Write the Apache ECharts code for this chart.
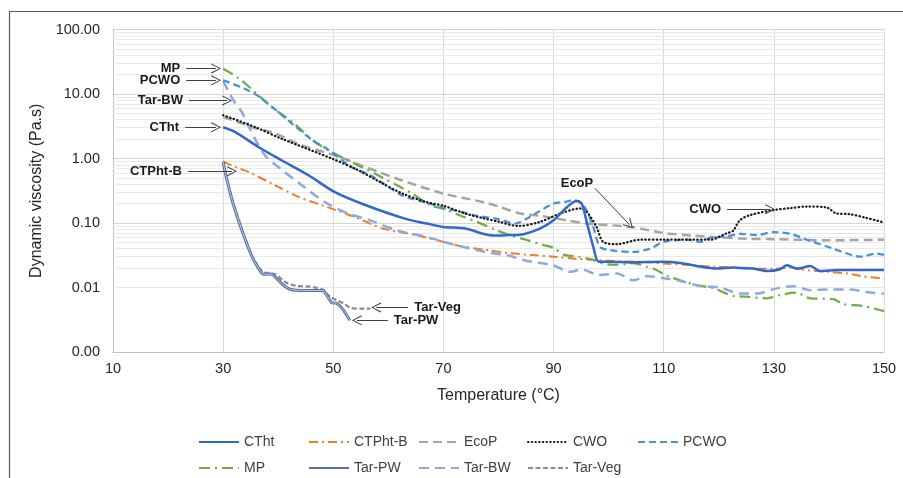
<!DOCTYPE html>
<html>
<head>
<meta charset="utf-8">
<script src="https://cdn.jsdelivr.net/npm/echarts@6/dist/echarts.min.js"></script>
<style>
html,body{margin:0;padding:0;background:#fff;}
#main{width:903px;height:478px;}
</style>
</head>
<body>
<div id="main"></div>
<script>
// temperature (°C) / dynamic viscosity (Pa.s) pairs
var ctht = [[30,3.05],[32.2,2.57],[36.4,1.51],[40.6,0.94],[45.5,0.55],[50.3,0.3],[55.8,0.19],[63,0.117],[67,0.098],[70,0.087],[74,0.082],[77.2,0.068],[79,0.064],[82,0.065],[84,0.066],[87.5,0.082],[90,0.11],[92.4,0.175],[94.2,0.22],[95.1,0.2],[96,0.105],[97.2,0.043],[98.2,0.025],[100,0.025],[104,0.0245],[110,0.025],[113,0.024],[115.5,0.022],[119.7,0.0197],[122.6,0.0205],[124,0.02],[126.3,0.0197],[128.8,0.018],[131,0.019],[132.4,0.0222],[134.2,0.0195],[136.6,0.0215],[138.4,0.018],[142,0.0186],[150,0.0186]];
var ctphtB = [[30,0.9],[32,0.75],[34.6,0.62],[39.4,0.385],[43.7,0.254],[47.9,0.189],[53.9,0.124],[59,0.082],[65,0.065],[70,0.051],[73.6,0.043],[78,0.038],[82,0.034],[86,0.032],[90,0.03],[94,0.028],[98,0.0265],[102,0.0255],[106,0.025],[110,0.0236],[115,0.0223],[119,0.021],[122,0.0205],[125.7,0.0197],[130,0.0195],[133,0.0205],[136,0.0186],[140,0.0175],[143.3,0.0165],[146,0.015],[150,0.0137]];
var ecoP = [[30,4.4],[33,3.6],[35.5,3.0],[38.8,2.57],[44.3,1.6],[50.3,1.12],[55.8,0.74],[62.4,0.46],[70,0.286],[77.3,0.21],[80,0.18],[84,0.14],[87.5,0.13],[92.4,0.11],[96,0.098],[104,0.087],[110,0.07],[115,0.064],[120,0.06],[125,0.057],[130,0.056],[140,0.054],[150,0.055]];
var cwo = [[30,4.7],[35.8,3.07],[40.6,2.03],[49.7,1.0],[54.5,0.66],[58.5,0.43],[62.4,0.29],[67,0.21],[70,0.185],[74,0.14],[77,0.12],[80,0.105],[83.6,0.09],[87.5,0.104],[91.2,0.14],[94.8,0.168],[96,0.15],[97.8,0.087],[99,0.051],[101.5,0.047],[105.7,0.055],[110,0.055],[118.4,0.055],[121.4,0.069],[122.6,0.076],[123.8,0.11],[125.6,0.132],[129.8,0.158],[133,0.17],[136,0.18],[139.6,0.174],[141.4,0.14],[143.8,0.137],[146.8,0.12],[150,0.102]];
var pcwo = [[30,16.3],[33.7,12.3],[36.7,8.9],[43,3.2],[46.7,1.8],[48.8,1.42],[53.3,0.74],[56.7,0.55],[62.4,0.27],[64,0.24],[67.6,0.2],[70,0.17],[73,0.15],[76,0.13],[80,0.115],[83,0.098],[85,0.115],[87.3,0.15],[90,0.2],[92,0.212],[93.6,0.225],[95.4,0.19],[97.2,0.087],[98.4,0.043],[100.2,0.038],[104.5,0.0357],[107.5,0.04],[110,0.051],[114.2,0.055],[116.6,0.051],[118.4,0.059],[121.5,0.062],[123.9,0.068],[126.9,0.065],[129.9,0.072],[133,0.068],[136,0.055],[140.8,0.04],[143.8,0.0325],[145.6,0.03],[148.7,0.0335],[150,0.032]];
var mp = [[30,24.6],[32.5,18.3],[34.9,12.5],[38.8,6.27],[42.7,3.6],[46.7,1.8],[51.5,1.05],[57.6,0.58],[59,0.5],[63.9,0.3],[67.6,0.19],[70,0.166],[73.6,0.125],[76,0.105],[79.7,0.077],[82,0.065],[85,0.055],[88,0.046],[90,0.041],[92,0.032],[94.5,0.03],[97,0.027],[99,0.0235],[101,0.0225],[103,0.023],[104.4,0.0239],[106.9,0.021],[108.5,0.019],[110.5,0.0153],[113,0.0129],[116,0.0109],[119,0.0098],[122.6,0.0074],[125,0.0072],[128.7,0.0068],[131,0.0076],[134,0.0083],[136.6,0.0068],[140.8,0.0066],[142.6,0.0055],[146,0.0052],[148.7,0.0046],[150,0.0043]];
var tarPW = [[30,0.88],[30.6,0.5],[31.8,0.2],[33.7,0.065],[35.5,0.027],[37.3,0.016],[38.2,0.0162],[39.1,0.0156],[40.9,0.011],[42.1,0.0094],[44,0.009],[47,0.009],[48.3,0.0088],[49.7,0.0058],[50.6,0.0057],[51.8,0.0045],[53,0.0031]];
var tarBW = [[30,16],[31.9,7.9],[33.4,5.25],[34.6,3.2],[36.1,1.8],[37.6,1.12],[40,0.74],[44.3,0.385],[48.5,0.21],[52.7,0.14],[56.7,0.11],[61.5,0.077],[67,0.061],[70,0.051],[74.8,0.04],[76,0.038],[79,0.034],[82,0.031],[85,0.026],[90,0.022],[93,0.0175],[95,0.019],[98.4,0.0156],[101.5,0.0165],[104.5,0.0129],[107,0.015],[110,0.0139],[113.6,0.0123],[116.6,0.0105],[120.2,0.01],[123.9,0.0081],[126.9,0.0081],[130.5,0.0097],[133.5,0.0105],[136.6,0.0091],[140,0.0093],[143.8,0.0093],[146.9,0.0085],[150,0.008]];
var tarVeg = [[30,0.9],[30.6,0.52],[31.8,0.21],[33.7,0.068],[35.5,0.028],[37.3,0.017],[38.5,0.0168],[39.5,0.016],[41.5,0.0118],[43.5,0.0105],[45.8,0.0103],[48.1,0.0093],[49.4,0.0072],[50.5,0.0064],[51.8,0.0057],[53.2,0.0048],[55,0.0047],[56.7,0.0047]];

var names = ['CTht','CTPht-B','EcoP','CWO','PCWO','MP','Tar-PW','Tar-BW','Tar-Veg'];
var xTicks = [10,30,50,70,90,110,130,150];
var decades = [0.001,0.01,0.1,1,10];

// callouts: label, start [T, value], arrow end [T, value]
var notes = [
  ['MP',[23.3,24.9],[28.7,24.9]],
  ['PCWO',[23.3,16.3],[28.7,16.3]],
  ['Tar-BW',[23.8,7.96],[30.7,7.96]],
  ['CTht',[23.1,3.04],[28.7,3.04]],
  ['CTPht-B',[23.6,0.634],[31.6,0.634]],
  ['EcoP',[97.5,0.346],[103.8,0.094]],
  ['CWO',[121.5,0.1636],[129.3,0.1636]],
  ['Tar-Veg',[63.6,0.0049],[57.8,0.0049]],
  ['Tar-PW',[59.9,0.0031],[54.3,0.0031]]
];

var FONT = '"Liberation Sans", Arial, sans-serif';
var myChart = echarts.init(document.getElementById('main'), null, {renderer: 'canvas'});

function line(name, data, color, width, type, extra) {
  var s = {
    name: name, type: 'line', data: data, showSymbol: false, symbol: 'none',
    smooth: 0.3, z: 3,
    lineStyle: {color: color, width: width, type: type, cap: 'butt'},
    itemStyle: {color: color}
  };
  if (extra) for (var k in extra) s[k] = extra[k];
  return s;
}

var minorLines = [];
decades.forEach(function (d) {
  for (var m = 2; m <= 9; m++) minorLines.push({yAxis: +(d * m).toPrecision(3)});
});

var arrowHead = 'path://M0,0 L5,9 L4.1,9.6 L0,1.8 L-4.1,9.6 L-5,9 Z';
var noteLines = notes.map(function (n) {
  var diag = n[0] === 'EcoP';
  return [
    {coord: n[1], label: {show: true, position: 'start', formatter: n[0],
      distance: diag ? [26, 6] : 6}},
    {coord: n[2]}
  ];
});

var legendPos = [[193,430],[303,430],[413,430],[522,430],[632,430],[193,456],[303,456],[413,456],[522,456]];
var legends = names.map(function (nm, i) {
  return {
    data: [nm], left: legendPos[i][0], top: legendPos[i][1],
    itemWidth: 40, itemHeight: 14, itemGap: 0,
    itemStyle: {opacity: 0},
    textStyle: {fontFamily: FONT, fontSize: 14, color: '#404040'}
  };
});

var option = {
  animation: false,
  backgroundColor: '#fff',
  textStyle: {fontFamily: FONT},
  graphic: [{
    type: 'rect', shape: {x: 9.5, y: 11.5, width: 905, height: 480},
    style: {fill: 'none', stroke: '#595959', lineWidth: 1.2}, silent: true
  }],
  legend: legends,
  grid: {left: 113, top: 29.5, right: 19, bottom: 126},
  xAxis: {
    type: 'value', min: 10, max: 150, interval: 20,
    name: 'Temperature (°C)', nameLocation: 'middle', nameGap: 36,
    nameTextStyle: {fontFamily: FONT, fontSize: 16, color: '#262626'},
    axisLine: {lineStyle: {color: '#bfbfbf'}},
    axisTick: {show: false},
    axisLabel: {fontFamily: FONT, fontSize: 14.5, color: '#262626', margin: 9,
      customValues: xTicks},
    splitLine: {lineStyle: {color: '#d9d9d9', width: 1}}
  },
  yAxis: {
    type: 'log', logBase: 10, min: 0.001, max: 100,
    name: 'Dynamic viscosity (Pa.s)', nameLocation: 'middle', nameGap: 57, nameRotate: 90,
    nameTextStyle: {fontFamily: FONT, fontSize: 16, color: '#262626'},
    axisLine: {show: true, lineStyle: {color: '#bfbfbf'}},
    axisTick: {show: false},
    axisLabel: {fontFamily: FONT, fontSize: 14.5, color: '#262626', margin: 13,
      formatter: function (v) { return v.toFixed(2); }},
    splitLine: {lineStyle: {color: '#d4d4d4', width: 1}}
  },
  series: [
    {
      name: 'minor', type: 'line', data: [], silent: true,
      markLine: {
        silent: true, symbol: 'none', z: 1, animation: false,
        label: {show: false},
        lineStyle: {color: '#e9e9e9', type: 'solid', width: 1},
        emphasis: {disabled: true},
        data: minorLines
      }
    },
    line('EcoP', ecoP, '#a5a5a5', 2.5, [9, 5]),
    line('CTPht-B', ctphtB, '#ed7d31', 2, [9, 4, 2, 4]),
    line('MP', mp, '#70ad47', 2.25, [11, 5, 2, 5]),
    line('Tar-BW', tarBW, '#8faadc', 2.5, [10, 6]),
    line('PCWO', pcwo, '#4a90d9', 2.25, [7, 4]),
    line('CWO', cwo, '#1a1a1a', 2.25, [0.5, 3.2], {lineStyle: {color: '#1a1a1a', width: 2.25, type: [0.5, 3.2], cap: 'round'}}),
    line('Tar-Veg', tarVeg, '#8c8c8c', 2.25, [5, 2.5], {smooth: 0.15}),
    line('Tar-PW', tarPW, '#5b6fa6', 3, 'solid', {smooth: 0.15}),
    line('Tar-PW-inner', tarPW, '#c3cde6', 1, 'solid', {z: 4, silent: true, smooth: 0.15}),
    line('CTht', ctht, '#3567c8', 2.5, 'solid'),
    {
      name: 'notes', type: 'line', data: [], silent: true,
      markLine: {
        silent: true, z: 6, animation: false,
        symbol: ['none', arrowHead], symbolSize: [10, 10],
        lineStyle: {color: '#404040', type: 'solid', width: 1},
        label: {fontFamily: FONT, fontSize: 13, fontWeight: 'bold', color: '#1a1a1a'},
        emphasis: {disabled: true},
        data: noteLines
      }
    }
  ]
};

myChart.setOption(option);
</script>
</body>
</html>
